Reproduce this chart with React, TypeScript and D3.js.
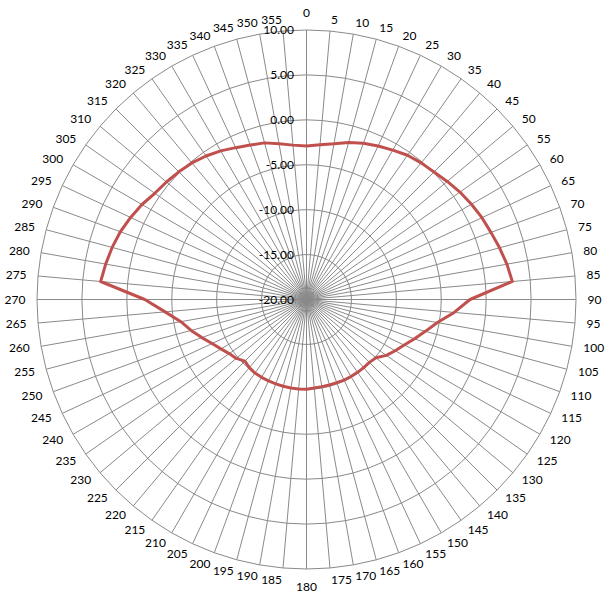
import * as d3 from "d3";

// category labels (degrees) and measured values
const categories = [
  0, 5, 10, 15, 20, 25, 30, 35, 40, 45, 50, 55, 60, 65, 70, 75, 80, 85,
  90, 95, 100, 105, 110, 115, 120, 125, 130, 135, 140, 145, 150, 155, 160, 165, 170, 175,
  180, 185, 190, 195, 200, 205, 210, 215, 220, 225, 230, 235, 240, 245, 250, 255, 260, 265,
  270, 275, 280, 285, 290, 295, 300, 305, 310, 315, 320, 325, 330, 335, 340, 345, 350, 355,
];

const values = [
  -2.9, -2.7, -2.4, -1.9, -1.5, -1.15, -0.8, -0.4, -0.15, 0.07, 0.45, 0.85, 1.2, 1.55, 1.85, 2.25, 2.65, 3.0,
  -1.8, -3.5, -5.2, -6.3, -7.2, -8.0, -8.6, -9.15, -9.9, -10.1, -10.1, -10.1, -10.1, -10.1, -10.15, -10.15, -10.15, -10.1,
  -10.0, -10.0, -10.0, -10.0, -10.0, -10.0, -10.0, -10.0, -10.1, -10.3, -9.8, -9.5, -9.0, -8.4, -7.6, -6.7, -5.8, -4.2,
  -2.0, 3.0, 2.7, 2.4, 2.05, 1.6, 1.15, 0.62, 0.35, 0.1, -0.15, -0.5, -0.9, -1.35, -1.7, -1.95, -2.4, -2.75,
];

const radialTicks = [-20, -15, -10, -5, 0, 5, 10];

const width = 609;
const height = 598;
const cx = 306.5;
const cy = 299.5;
const font = "Lato, 'Open Sans', sans-serif";
const gridColor = "#8a8a8a";

export default function App() {
  const r = d3.scaleLinear().domain([-20, 10]).range([0, 269.5]);
  const angle = d3.scaleLinear().domain([0, 360]).range([0, 2 * Math.PI]);

  const ring = (v: number) =>
    d3
      .lineRadial<number>()
      .angle((d) => angle(d))
      .radius(() => r(v))
      .curve(d3.curveLinearClosed)(categories) as string;

  const series = d3
    .lineRadial<number>()
    .angle((_, i) => angle(categories[i]))
    .radius((d) => r(d))
    .curve(d3.curveLinearClosed)(values) as string;

  const rOuter = r(10);
  const rLabel = rOuter + 11.5;

  return (
    <svg
      width={width}
      height={height}
      style={{ position: "absolute", left: 0, top: 0, background: "#fff" }}
    >
      <g transform={`translate(${cx},${cy})`}>
        {/* spokes */}
        {categories.map((c) => {
          const a = angle(c);
          return (
            <line
              key={"s" + c}
              x1={0}
              y1={0}
              x2={rOuter * Math.sin(a)}
              y2={-rOuter * Math.cos(a)}
              stroke={gridColor}
              strokeWidth={1}
            />
          );
        })}
        {/* gridline polygons */}
        {radialTicks
          .filter((t) => t > -20)
          .map((t) => (
            <path key={"g" + t} d={ring(t)} fill="none" stroke={gridColor} strokeWidth={1} />
          ))}

        {/* series */}
        <path d={series} fill="none" stroke="#C0504D" strokeWidth={3} strokeLinejoin="round" />

        {/* radial value labels */}
        {radialTicks.map((t) => (
          <text
            key={"v" + t}
            x={-12.5}
            y={-r(t)}
            dy="0.35em"
            textAnchor="end"
            fontFamily={font}
            fontSize={12}
            fill="#000"
          >
            {t.toFixed(2)}
          </text>
        ))}

        {/* category labels */}
        {categories.map((c) => {
          const a = angle(c);
          const s = Math.sin(a);
          const co = Math.cos(a);
          let anchor: "start" | "end" | "middle" = s > 0.01 ? "start" : s < -0.01 ? "end" : "middle";
          let x = rLabel * s;
          let y = -rLabel * co;
          let dy = "0.35em";
          if (c === 0) {
            y = -(rOuter + 13);
            dy = "0";
          } else if (c === 180) {
            y = rOuter + 13;
            dy = "0.75em";
          }
          return (
            <text
              key={"c" + c}
              x={x}
              y={y}
              dy={dy}
              textAnchor={anchor}
              fontFamily={font}
              fontSize={12}
              fill="#000"
            >
              {c}
            </text>
          );
        })}
      </g>
    </svg>
  );
}
